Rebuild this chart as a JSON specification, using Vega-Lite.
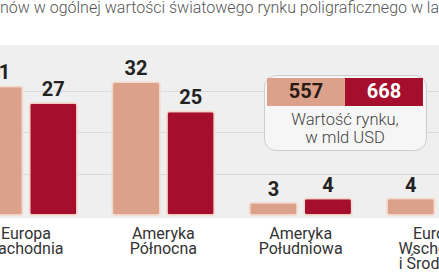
{
  "$schema": "https://vega.github.io/schema/vega-lite/v6.json",
  "width": 439,
  "height": 173,
  "autosize": {"type": "none"},
  "padding": {"left": 0, "top": 45, "right": 0, "bottom": 56},
  "background": "white",
  "title": {
    "text": "nów w ogólnej wartości światowego rynku poligraficznego w latach",
    "anchor": "start",
    "frame": "group",
    "font": "Roboto",
    "fontSize": 16,
    "fontWeight": 300,
    "color": "#555555",
    "baseline": "alphabetic",
    "offset": 16
  },
  "config": {
    "view": {"fill": "#efefef", "stroke": null}
  },
  "data": {
    "values": [
      {"region": "Europa Zachodnia", "wartosc_rynku": "557", "udzial": 31},
      {"region": "Europa Zachodnia", "wartosc_rynku": "668", "udzial": 27},
      {"region": "Ameryka Północna", "wartosc_rynku": "557", "udzial": 32},
      {"region": "Ameryka Północna", "wartosc_rynku": "668", "udzial": 25},
      {"region": "Ameryka Południowa", "wartosc_rynku": "557", "udzial": 3},
      {"region": "Ameryka Południowa", "wartosc_rynku": "668", "udzial": 4},
      {"region": "Europa Wschodnia i Środkowa", "wartosc_rynku": "557", "udzial": 4},
      {"region": "Europa Wschodnia i Środkowa", "wartosc_rynku": "668", "udzial": 5}
    ]
  },
  "encoding": {
    "x": {
      "field": "region",
      "type": "nominal",
      "sort": null,
      "scale": {"range": [-25, 489], "paddingInner": 0.257, "paddingOuter": 0},
      "axis": {
        "title": null,
        "domain": false,
        "ticks": false,
        "labelAngle": 0,
        "labelFont": "Roboto",
        "labelFontSize": 16,
        "labelColor": "#333333",
        "labelPadding": 7,
        "labelLineHeight": 15,
        "labelBaseline": "top",
        "labelOverlap": false,
        "labelBound": false,
        "labelFlush": false,
        "labelExpr": "split(replace(datum.label, ' i ', ' i\u00a0'), ' ')"
      }
    },
    "xOffset": {
      "field": "wartosc_rynku",
      "type": "nominal",
      "sort": ["557", "668"],
      "scale": {"paddingInner": 0.13}
    },
    "y": {
      "field": "udzial",
      "type": "quantitative",
      "scale": {"domain": [-0.7, 41], "nice": false},
      "axis": {
        "title": null,
        "labels": false,
        "ticks": false,
        "domain": false,
        "grid": true,
        "values": [10, 20, 30],
        "gridColor": "#dadada",
        "gridWidth": 1
      }
    }
  },
  "layer": [
    {
      "mark": {
        "type": "bar",
        "filled": true,
        "fillOpacity": 1,
        "cornerRadius": 2.5,
        "stroke": "#f3d8cb",
        "strokeWidth": 1.5
      },
      "encoding": {
        "fill": {
          "field": "wartosc_rynku",
          "type": "nominal",
          "scale": {"domain": ["557", "668"], "range": ["#dba18a", "#a50e2c"]},
          "legend": {
            "orient": "none",
            "legendX": 264,
            "legendY": 30,
            "direction": "horizontal",
            "title": ["Wartość rynku,", "w mld USD"],
            "titleOrient": "bottom",
            "titleAnchor": "middle",
            "titleAlign": "center",
            "titleFont": "Roboto",
            "titleFontWeight": 300,
            "titleFontSize": 16.5,
            "titleColor": "#444444",
            "titleLineHeight": 18,
            "titlePadding": 6,
            "symbolType": "M-1,-1H4.57V1H-1Z",
            "symbolSize": 784,
            "symbolStrokeWidth": 0,
            "symbolStrokeColor": "transparent",
            "symbolOpacity": 1,
            "labelAlign": "center",
            "labelBaseline": "middle",
            "labelOffset": 11,
            "labelFont": "Roboto",
            "labelFontSize": 20,
            "labelFontWeight": "bold",
            "columnPadding": 0,
            "padding": 3,
            "fillColor": "#f6f6f6",
            "strokeColor": "#cccccc",
            "cornerRadius": 12,
            "encode": {
              "labels": {
                "update": {
                  "fill": {"signal": "datum.value === '668' ? '#ffffff' : '#2a1a14'"}
                }
              }
            }
          }
        }
      }
    },
    {
      "mark": {
        "type": "text",
        "baseline": "middle",
        "dy": -13,
        "font": "Roboto",
        "fontSize": 20,
        "fontWeight": "bold",
        "color": "#222222"
      },
      "encoding": {
        "text": {"field": "udzial", "type": "quantitative"}
      }
    }
  ]
}
